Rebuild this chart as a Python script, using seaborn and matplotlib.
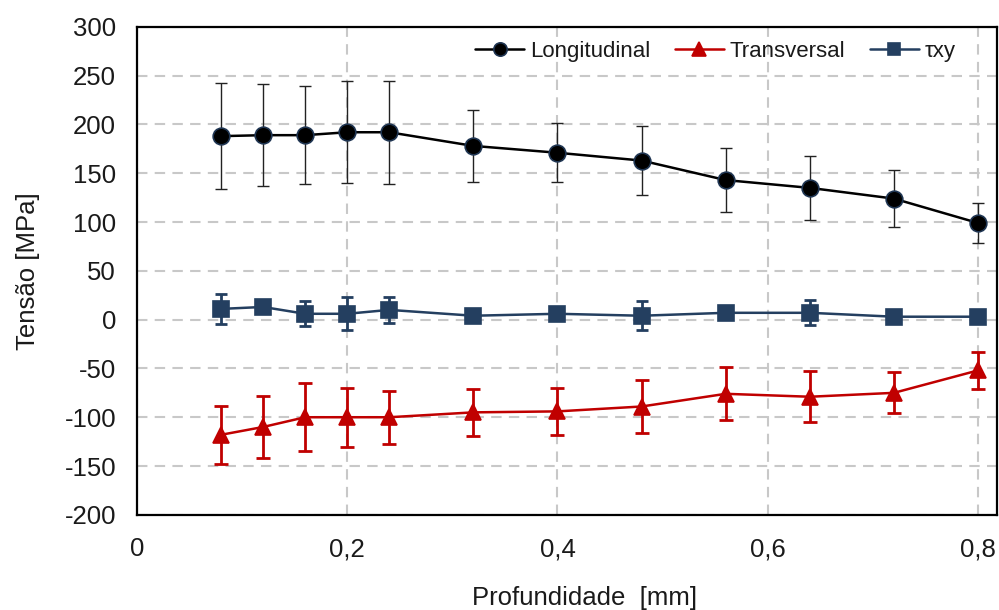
import numpy as np
import pandas as pd
import matplotlib
matplotlib.use("Agg")
import matplotlib.pyplot as plt
import seaborn as sns
from matplotlib.ticker import MultipleLocator, FixedLocator

# Depth positions [mm]
depth = [0.08, 0.12, 0.16, 0.20, 0.24, 0.32, 0.40, 0.48, 0.56, 0.64, 0.72, 0.80]

# Longitudinal stress and error
long_val = [188, 189, 189, 192, 192, 178, 171, 163, 143, 135, 124, 99]
long_err = [54, 52, 50, 52, 53, 37, 30, 35, 33, 33, 29, 20]

# Transversal stress and error
trans_val = [-118, -110, -100, -100, -100, -95, -94, -89, -76, -79, -75, -52]
trans_err = [30, 32, 35, 30, 27, 24, 24, 27, 27, 26, 21, 19]

# Shear stress txy and error
txy_val = [11, 13, 6, 6, 10, 4, 6, 4, 7, 7, 3, 3]
txy_err = [15, 2, 13, 17, 13, 2, 2, 15, 2, 13, 2, 2]

labels = ["Longitudinal", "Transversal", "\u03c4xy"]
x_ticks = [0, 0.2, 0.4, 0.6, 0.8]
x_tick_labels = ["0", "0,2", "0,4", "0,6", "0,8"]

df = pd.DataFrame({
    "depth": depth * 3,
    "stress": long_val + trans_val + txy_val,
    "err": long_err + trans_err + txy_err,
    "serie": [labels[0]] * 12 + [labels[1]] * 12 + [labels[2]] * 12,
})

sns.set_theme(style="white")
plt.rcParams["font.family"] = ["Liberation Sans", "DejaVu Sans"]
plt.rcParams["axes.unicode_minus"] = False

fig, ax = plt.subplots(figsize=(9.99, 6.10), dpi=100)
fig.subplots_adjust(left=0.137, right=0.998, top=0.956, bottom=0.156)

# grid first, behind the data
ax.set_axisbelow(True)
ax.grid(True, which="major", color="#c8c8c8", linestyle=(0, (5, 3.5)), linewidth=1.5)

styles = {
    labels[0]: dict(color="black", mec="#1f3552", marker="o", ms=12, lw=1.8, ecol="#222222", elw=1.0, cap=4.5),
    labels[1]: dict(color="#c00000", mec="#c00000", marker="^", ms=12, lw=1.8, ecol="#c00000", elw=2.0, cap=5),
    labels[2]: dict(color="#243f60", mec="#243f60", marker="s", ms=11, lw=1.8, ecol="#243f60", elw=2.0, cap=4.5),
}

for name in labels:
    sub = df[df["serie"] == name]
    st = styles[name]
    ax.errorbar(sub["depth"], sub["stress"], yerr=sub["err"], fmt="none",
                ecolor=st["ecol"], elinewidth=st["elw"], capsize=st["cap"],
                capthick=st["elw"], zorder=2)
    sns.lineplot(data=sub, x="depth", y="stress", ax=ax, color=st["color"],
                 marker=st["marker"], markersize=st["ms"], markeredgecolor=st["mec"],
                 markeredgewidth=1.2, linewidth=st["lw"], label=name, zorder=3)

ax.set_xlim(0, 0.818)
ax.set_ylim(-200, 300)
ax.xaxis.set_major_locator(FixedLocator(x_ticks))
ax.set_xticklabels(x_tick_labels)
ax.xaxis.set_minor_locator(MultipleLocator(0.04))
ax.yaxis.set_major_locator(MultipleLocator(50))
ax.yaxis.set_minor_locator(MultipleLocator(25))

ax.tick_params(axis="both", which="major", direction="in", length=6, width=1.5,
               labelsize=18.5, colors="black", labelcolor="#1a1a1a")
ax.tick_params(axis="both", which="minor", direction="in", length=4.5, width=1.5)
ax.tick_params(axis="x", which="major", length=7, pad=16)
ax.tick_params(axis="y", which="major", length=4.5, pad=15)

for sp in ax.spines.values():
    sp.set_color("black")
    sp.set_linewidth(1.6)

ax.set_xlabel("Profundidade  [mm]", fontsize=18.5, color="#1a1a1a")
ax.set_ylabel("Tens\u00e3o [MPa]", fontsize=18.5, color="#1a1a1a")
ax.xaxis.set_label_coords(0.52, -0.146)
ax.yaxis.set_label_coords(-0.113, 0.5)

leg = ax.legend(loc="upper right", ncol=3, frameon=False, fontsize=16,
                handlelength=2.2, columnspacing=1.1, handletextpad=0.27,
                borderpad=0, borderaxespad=0, markerscale=0.8,
                bbox_to_anchor=(0.952, 0.971))
for t in leg.get_texts():
    t.set_color("#1a1a1a")

fig.savefig("out.png", dpi=100)
